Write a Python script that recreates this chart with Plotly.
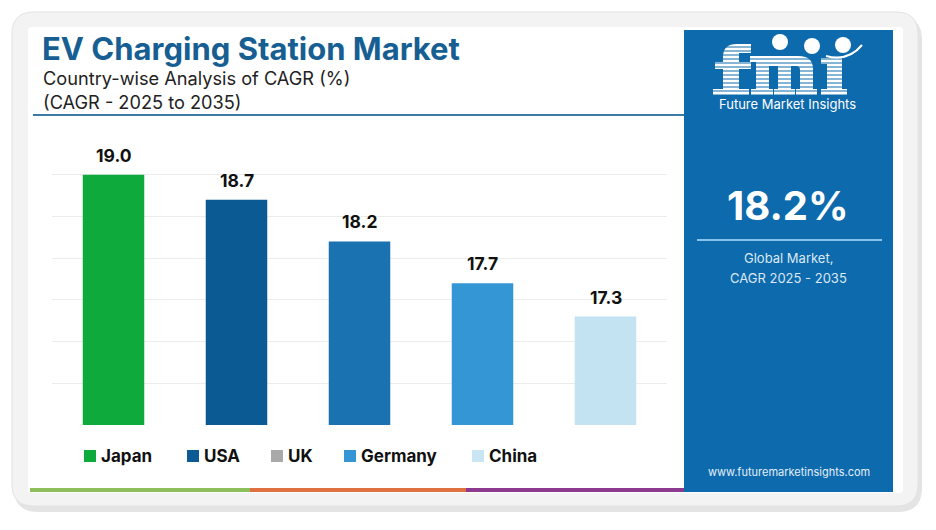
import plotly.graph_objects as go

# ---- data ----
countries = ["Japan", "USA", "UK", "Germany", "China"]
cagr = [19.0, 18.7, 18.2, 17.7, 17.3]
bar_colors = ["#0eaa3c", "#0b5a93", "#1b72b0", "#3596d6", "#c3e2f2"]
legend_colors = ["#0eaa3c", "#0b5a93", "#a9a9a9", "#3596d6", "#c9e5f3"]
title = "EV Charging Station Market"
subtitle1 = "Country-wise Analysis of CAGR (%)"
subtitle2 = "(CAGR - 2025 to 2035)"
global_cagr = "18.2%"

W, H = 936, 530
L, R, T, B = 52, 269, 133, 105
PW, PH = W - L - R, H - T - B
PANEL = "#0d6aad"


def px(x):
    return (x - L) / PW


def py(y):
    return 1 - (y - T) / PH


def pt(p):
    return f"{px(p[0])},{py(p[1])}"


def path(cmds):
    out = []
    for c in cmds:
        if c == "Z":
            out.append("Z")
        else:
            out.append(c[0] + " " + " ".join(pt(p) for p in c[1:]))
    return " ".join(out)


def rrect(x0, y0, x1, y1, r):
    return path([("M", (x0 + r, y0)), ("L", (x1 - r, y0)), ("Q", (x1, y0), (x1, y0 + r)),
                 ("L", (x1, y1 - r)), ("Q", (x1, y1), (x1 - r, y1)), ("L", (x0 + r, y1)),
                 ("Q", (x0, y1), (x0, y1 - r)), ("L", (x0, y0 + r)), ("Q", (x0, y0), (x0 + r, y0)), "Z"])


def prect(x0, y0, x1, y1, color, layer="above"):
    return dict(type="rect", xref="paper", yref="paper", layer=layer,
                x0=px(x0), x1=px(x1), y0=py(y1), y1=py(y0),
                fillcolor=color, line=dict(width=0))


FONT = "Inter, 'Open Sans', sans-serif"

fig = go.Figure()
fig.add_trace(go.Bar(
    x=countries, y=cagr, marker=dict(color=bar_colors, line=dict(width=0)),
    showlegend=False, hoverinfo="skip",
))

shapes = []
# shadow + card
shapes.append(dict(type="path", xref="paper", yref="paper", layer="below",
                   path=rrect(14, 16, 922, 512, 24), fillcolor="#e4e4e4", line=dict(width=0)))
shapes.append(dict(type="path", xref="paper", yref="paper", layer="below",
                   path=rrect(12, 12, 918, 506, 22), fillcolor="#f3f3f3",
                   line=dict(color="#e3e3e3", width=1)))
shapes.append(dict(type="path", xref="paper", yref="paper", layer="below",
                   path=rrect(28, 27, 903, 493, 4), fillcolor="#ffffff", line=dict(width=0)))
# right blue panel
shapes.append(prect(684, 30, 893, 492, PANEL, "below"))
# header underline
shapes.append(dict(type="line", xref="paper", yref="paper", layer="below",
                   x0=px(33), x1=px(684), y0=py(115), y1=py(115),
                   line=dict(color="#3b7ba6", width=2)))
# bottom coloured bar
for x0, x1, c in [(30, 250, "#8dbf5a"), (250, 466, "#e0703f"), (466, 684, "#8b3a8e")]:
    shapes.append(prect(x0, 488, x1, 492, c, "below"))
# panel separator line
shapes.append(dict(type="line", xref="paper", yref="paper",
                   x0=px(697), x1=px(882), y0=py(240), y1=py(240),
                   line=dict(color="#86c3ec", width=2)))

# ---- fmi logo (decorative) ----
WHITE = "#ffffff"
logo_paths = [
    # f
    [("M", (723, 95)), ("L", (723, 57)), ("Q", (723, 44), (737, 44)), ("L", (751, 44)),
     ("L", (751, 53)), ("L", (739, 53)), ("L", (739, 95)), "Z"],
    # m
    [("M", (756, 95)), ("L", (756, 56)), ("L", (798, 56)), ("Q", (813, 56), (813, 69)),
     ("L", (813, 95)), ("L", (800, 95)), ("L", (800, 70)), ("Q", (800, 66), (796, 66)),
     ("L", (791, 66)), ("L", (791, 95)), ("L", (778, 95)), ("L", (778, 66)),
     ("L", (769, 66)), ("L", (769, 95)), "Z"],
]
for pcmd in logo_paths:
    shapes.append(dict(type="path", xref="paper", yref="paper", path=path(pcmd),
                       fillcolor=WHITE, line=dict(width=0)))
for r in [(715, 62, 751, 69), (713, 89, 749, 95),            # f bar & foot
          (750, 56, 760, 62), (751, 89, 773, 95), (774, 89, 795, 95), (796, 89, 817, 95),  # m serifs
          (827, 58, 842, 95), (821, 58, 842, 64), (821, 89, 847, 95)]:  # i
    shapes.append(prect(*r, WHITE))
# stripes over the letters
for yy in range(47, 96, 4):
    shapes.append(dict(type="line", xref="paper", yref="paper",
                       x0=px(710), x1=px(850), y0=py(yy), y1=py(yy),
                       line=dict(color=PANEL, width=1)))
# globes and smile
for cx, cy in [(780, 42), (812, 46), (843, 45)]:
    shapes.append(dict(type="circle", xref="paper", yref="paper",
                       x0=px(cx - 8), x1=px(cx + 8), y0=py(cy + 8), y1=py(cy - 8),
                       fillcolor=WHITE, line=dict(width=0)))
shapes.append(dict(type="path", xref="paper", yref="paper",
                   path=path([("M", (826, 56)), ("Q", (848, 62), (862, 45))]),
                   line=dict(color=WHITE, width=2)))

annotations = []
# value labels
for c, v in zip(countries, cagr):
    annotations.append(dict(x=c, y=v, xref="x", yref="y", text=f"{v:.1f}",
                            showarrow=False, yanchor="bottom", yshift=7,
                            font=dict(family=FONT, size=17.5, color="#111111", weight="bold")))

# titles
annotations.append(dict(x=px(40), y=py(48), xref="paper", yref="paper", text=title,
                        showarrow=False, xanchor="left", yanchor="middle",
                        font=dict(family=FONT, size=31, color="#175f92", weight="bold")))
annotations.append(dict(x=px(41), y=py(78), xref="paper", yref="paper", text=subtitle1,
                        showarrow=False, xanchor="left", yanchor="middle",
                        font=dict(family=FONT, size=18.2, color="#222222")))
annotations.append(dict(x=px(41), y=py(102), xref="paper", yref="paper", text=subtitle2,
                        showarrow=False, xanchor="left", yanchor="middle",
                        font=dict(family=FONT, size=18.2, color="#222222")))

# legend
leg_sq = [84, 187, 271, 344, 472]
for name, col, sx in zip(countries, legend_colors, leg_sq):
    shapes.append(prect(sx, 450, sx + 12, 462, col))
    annotations.append(dict(x=px(sx + 15), y=py(456), xref="paper", yref="paper",
                            text=name, showarrow=False, xanchor="left", yanchor="middle",
                            font=dict(family=FONT, size=17, color="#111111", weight="bold")))

# right panel texts
annotations.append(dict(x=px(787), y=py(104), xref="paper", yref="paper",
                        text="Future Market Insights", showarrow=False,
                        xanchor="center", yanchor="middle",
                        font=dict(family=FONT, size=13, color="#ffffff")))
annotations.append(dict(x=px(788), y=py(205), xref="paper", yref="paper", text=global_cagr,
                        showarrow=False, xanchor="center", yanchor="middle",
                        font=dict(family=FONT, size=40, color="#ffffff", weight="bold")))
annotations.append(dict(x=px(788), y=py(258), xref="paper", yref="paper",
                        text="Global Market,", showarrow=False,
                        xanchor="center", yanchor="middle",
                        font=dict(family=FONT, size=13, color="#dbe8f4")))
annotations.append(dict(x=px(788), y=py(278), xref="paper", yref="paper",
                        text="CAGR 2025 - 2035", showarrow=False,
                        xanchor="center", yanchor="middle",
                        font=dict(family=FONT, size=13, color="#dbe8f4")))
annotations.append(dict(x=px(789), y=py(472), xref="paper", yref="paper",
                        text="www.futuremarketinsights.com", showarrow=False,
                        xanchor="center", yanchor="middle",
                        font=dict(family=FONT, size=11, color="#e3eef8")))

fig.update_layout(
    width=W, height=H,
    margin=dict(l=L, r=R, t=T, b=B, pad=0),
    paper_bgcolor="#ffffff", plot_bgcolor="rgba(0,0,0,0)",
    bargap=0.5,
    xaxis=dict(showticklabels=False, showgrid=False, zeroline=False, showline=False,
               ticks="", fixedrange=True),
    yaxis=dict(range=[16, 19.5], dtick=0.5, tick0=16, showticklabels=False,
               showgrid=True, gridcolor="#ececec", gridwidth=1, zeroline=False,
               showline=False, ticks="", fixedrange=True),
    shapes=shapes, annotations=annotations,
    showlegend=False,
)

fig.write_html("out.html", config={"displayModeBar": False})
